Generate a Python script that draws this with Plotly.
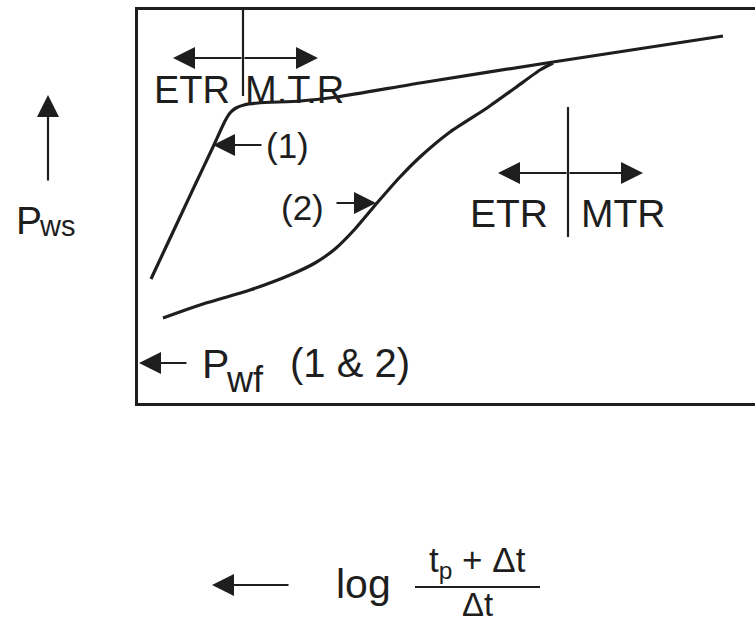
import plotly.graph_objects as go

# Schematic Horner plot: shut-in pressure vs. log((tp+dt)/dt), two wells
# Coordinates are in plot units: x grows to the right, y grows upward.
curve1_x = [13, 27, 42, 57, 75, 87, 92, 98, 106, 120, 162, 199, 282, 415, 585]
curve1_y = [124, 154, 186, 218, 256, 282, 290, 295, 298, 300, 302, 306, 320, 341, 367]

curve2_x = [25, 62, 112, 152, 177, 197, 217, 239, 262, 282, 312, 349, 377, 402, 415]
curve2_y = [85, 98, 113, 128, 140, 154, 174, 200, 226, 246, 271, 295, 315, 333, 340]

W, H = 755, 622
L, T, B = 138, 10, 219
PW, PH = W - L, H - T - B
INK = "#1e1e1e"
FONT = "Liberation Sans, Arial, sans-serif"


def px(x):
    return (x - L) / PW


def py(y):
    return (H - B - y) / PH


fig = go.Figure()
for xs, ys in [(curve1_x, curve1_y), (curve2_x, curve2_y)]:
    fig.add_trace(go.Scatter(x=xs, y=ys, mode="lines",
                             line=dict(color=INK, width=3.2, shape="spline", smoothing=0.6),
                             hoverinfo="skip", showlegend=False))

ann = []
shapes = []


def text(x, y, s, size, xanchor="center"):
    ann.append(dict(x=px(x), y=py(y), xref="paper", yref="paper", text=s,
                    showarrow=False, xanchor=xanchor, yanchor="middle",
                    font=dict(family=FONT, size=size, color=INK)))


def arrow(hx, hy, dx, dy):
    # head at (hx, hy); tail offset (dx, dy) in pixels
    ann.append(dict(x=px(hx), y=py(hy), xref="paper", yref="paper", text="",
                    showarrow=True, ax=dx, ay=dy, arrowhead=2, arrowsize=2,
                    arrowwidth=2.2, arrowcolor=INK))


def seg(x0, y0, x1, y1, w=2.2):
    shapes.append(dict(type="line", xref="paper", yref="paper",
                       x0=px(x0), y0=py(y0), x1=px(x1), y1=py(y1),
                       line=dict(color=INK, width=w)))


# early / middle time region marker for curve (1)
seg(243, 10, 243, 96)
arrow(173, 58, 70, 0)
arrow(318, 58, -75, 0)
text(192, 90, "ETR", 38)
text(294, 90, "M.T.R", 38)
text(287, 145, "(1)", 35)
arrow(213, 145, 50, 0)
text(302, 208, "(2)", 35)
arrow(376, 203, -41, 0)

# early / middle time region marker for curve (2)
seg(568, 107, 568, 237)
arrow(498, 173, 70, 0)
arrow(643, 173, -75, 0)
text(509, 213, "ETR", 39)
text(623, 213, "MTR", 39)

# flowing pressure label
arrow(139, 363, 49, 0)
text(200, 364, "P", 41, xanchor="left")
text(224, 379, "wf", 36, xanchor="left")
text(350, 363, "(1 &amp; 2)", 40)

# y-axis label
arrow(48, 95, 0, 87)
text(14, 220, "P", 39, xanchor="left")
text(37, 226, "ws", 29, xanchor="left")

# x-axis label
arrow(212, 585, 78, 0)
text(363, 584, "log", 41)
text(477, 562, "t<sub>p</sub> + Δt", 35)
seg(415, 587, 540, 587, 2)
text(477, 604, "Δt", 33)

fig.update_layout(
    width=W, height=H,
    margin=dict(l=L, r=0, t=T, b=B),
    paper_bgcolor="white", plot_bgcolor="white",
    annotations=ann, shapes=shapes,
    xaxis=dict(range=[0, PW], showgrid=False, zeroline=False, showticklabels=False,
               ticks="", showline=True, linecolor=INK, linewidth=3, mirror=True),
    yaxis=dict(range=[0, PH], showgrid=False, zeroline=False, showticklabels=False,
               ticks="", showline=True, linecolor=INK, linewidth=3, mirror=False),
)
fig.write_html("out.html")
